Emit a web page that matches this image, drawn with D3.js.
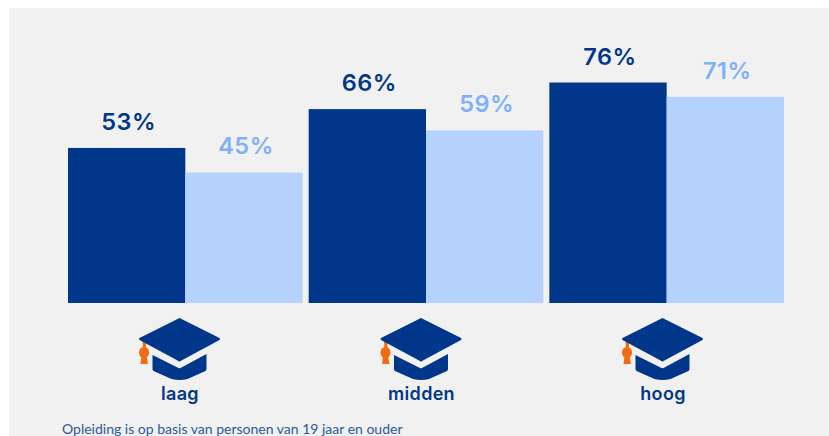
<!DOCTYPE html>
<html>
<head>
<meta charset="utf-8">
<script src="https://cdn.jsdelivr.net/npm/d3@7"></script>
<style>
  html, body { margin: 0; padding: 0; background: #fff; overflow: hidden; }
  text { font-family: Inter, sans-serif; }
</style>
</head>
<body>
<div id="wrapper"></div>
<script>
// values, the labels show them rounded
const categories = ["laag", "midden", "hoog"]
const seriesNames = ["donker", "licht"]
const darkValues = [53.1, 66.4, 75.5]
const lightValues = [44.7, 59.1, 70.6]
const note = "Opleiding is op basis van personen van 19 jaar en ouder"

const width = 829
const height = 436
const dark = "#00378a"
const light = "#b5d2ff"
const lightText = "#7fb0fb"
const orange = "#f36a10"

const svg = d3.select("#wrapper")
  .append("svg")
  .attr("width", width)
  .attr("height", height)
  .style("display", "block")

svg.append("rect")
  .attr("x", 9)
  .attr("y", 8)
  .attr("width", width - 9)
  .attr("height", height - 8)
  .attr("fill", "#f1f1f1")

// scales
const xGroup = d3.scaleBand()
  .domain(categories)
  .range([68, 784])
  .paddingInner(0.025)

const xBar = d3.scaleBand()
  .domain(seriesNames)
  .range([0, xGroup.bandwidth()])

// the caps sit a bit left of the bar groups
const xCap = d3.scalePoint()
  .domain(categories)
  .range([179.5, 662.5])

const yScale = d3.scaleLinear()
  .domain([0, 100])
  .range([303, 11])

const rows = categories.map((c, i) => ({
  category: c,
  values: [
    { name: "donker", value: darkValues[i], fill: dark, label: dark },
    { name: "licht", value: lightValues[i], fill: light, label: lightText },
  ],
}))

const groups = svg.selectAll(".group")
  .data(rows)
  .join("g")
  .attr("class", "group")
  .attr("transform", d => `translate(${xGroup(d.category)},0)`)

groups.selectAll("rect")
  .data(d => d.values)
  .join("rect")
  .attr("x", d => xBar(d.name))
  .attr("y", d => yScale(d.value))
  .attr("width", xBar.bandwidth())
  .attr("height", d => yScale(0) - yScale(d.value))
  .attr("fill", d => d.fill)

groups.selectAll(".value")
  .data(d => d.values)
  .join("text")
  .attr("class", "value")
  .attr("x", d => xBar(d.name) + xBar.bandwidth() / 2 + 2)
  .attr("y", d => yScale(d.value) - 18)
  .attr("text-anchor", "middle")
  .attr("fill", d => d.label)
  .style("font-size", "23.5px")
  .style("font-weight", 600)
  .style("letter-spacing", "0.5px")
  .text(d => `${d3.format(".0f")(d.value)}%`)

// graduation cap + category name under each group
const caps = svg.selectAll(".cap")
  .data(categories)
  .join("g")
  .attr("class", "cap")
  .attr("transform", d => `translate(${xCap(d)},0)`)

// tassel: cord, knot, skirt
caps.append("path")
  .attr("d", "M-37,341 L-33.5,343 L-33.5,349 L-36.5,349 Z")
  .attr("fill", orange)
caps.append("ellipse")
  .attr("cx", -35.5)
  .attr("cy", 352.5)
  .attr("rx", 5)
  .attr("ry", 5.5)
  .attr("fill", orange)
caps.append("path")
  .attr("d", "M-38,356 L-33,356 L-31.5,364 L-39,364 Z")
  .attr("fill", orange)

caps.append("path")
  .attr("d", "M0,318 L40,338 Q41,339 40,340 L1,361 Q0,362 -1,361 L-40,340 Q-41,339 -40,338 Z")
  .attr("fill", dark)

caps.append("path")
  .attr("d", "M-27,355 L-1,368 Q0,368.5 1,368 L27,354 L27,369 Q27,370 26,371 L8,379 Q0,381 -8,379 L-26,371 Q-27,370 -27,369 Z")
  .attr("fill", dark)

caps.append("text")
  .attr("x", 0.5)
  .attr("y", 400)
  .attr("text-anchor", "middle")
  .attr("fill", dark)
  .style("font-size", "18px")
  .style("font-weight", 600)
  .style("letter-spacing", "0.3px")
  .text(d => d)

svg.append("text")
  .attr("x", 62)
  .attr("y", 434)
  .attr("fill", "#2a5a9c")
  .style("font-family", "Lato, sans-serif")
  .style("font-size", "14px")
  .text(note)
</script>
</body>
</html>
